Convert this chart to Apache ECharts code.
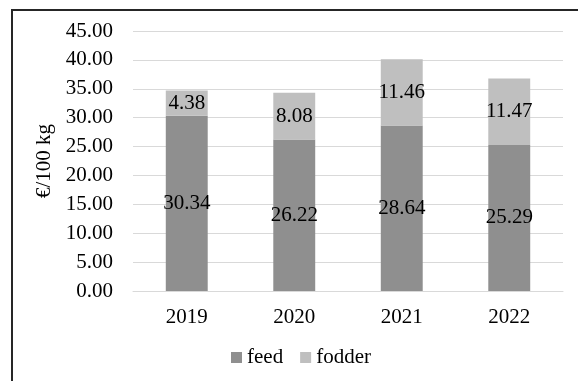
<!DOCTYPE html>
<html>
<head>
<meta charset="utf-8">
<script src="https://cdn.jsdelivr.net/npm/echarts@6/dist/echarts.min.js"></script>
<style>
  html, body { margin: 0; padding: 0; background: #fff; }
  #chart { width: 578px; height: 381px; }
</style>
</head>
<body>
<div id="chart"></div>
<script>
const years = ['2019', '2020', '2021', '2022'];
const feed = [30.34, 26.22, 28.64, 25.29];
const fodder = [4.38, 8.08, 11.46, 11.47];

const FONT = '"Liberation Serif", "Times New Roman", serif';
const chart = echarts.init(document.getElementById('chart'));

const label = { show: true, position: 'inside', color: '#000', fontFamily: FONT, fontSize: 21, formatter: (p) => p.value.toFixed(2) };

chart.setOption({
  backgroundColor: '#fff',
  animation: false,
  graphic: [{ type: 'rect', shape: { x: 12, y: 10, width: 575, height: 380 }, style: { fill: 'none', stroke: '#262626', lineWidth: 2 } }],
  grid: { left: 133, right: 15, top: 31, bottom: 90 },
  legend: {
    bottom: 8, left: 226, itemWidth: 11, itemHeight: 11, itemGap: 17,
    icon: 'rect',
    textStyle: { fontFamily: FONT, fontSize: 21, color: '#000' },
    data: ['feed', 'fodder']
  },
  xAxis: {
    type: 'category', data: years,
    axisTick: { show: false },
    axisLine: { lineStyle: { color: '#d9d9d9' } },
    axisLabel: { fontFamily: FONT, fontSize: 21, color: '#000', margin: 16 }
  },
  yAxis: {
    type: 'value', min: 0, max: 45, interval: 5,
    name: '€/100 kg', nameLocation: 'middle', nameGap: 75, nameRotate: 90,
    nameTextStyle: { fontFamily: FONT, fontSize: 21, color: '#000' },
    axisLine: { show: false }, axisTick: { show: false },
    axisLabel: { fontFamily: FONT, fontSize: 21, color: '#000', margin: 20, formatter: (v) => v.toFixed(2) },
    splitLine: { lineStyle: { color: '#d9d9d9', width: 1 } }
  },
  series: [
    { name: 'feed', type: 'bar', stack: 'a', data: feed, barWidth: '39%', itemStyle: { color: '#8f8f8f' }, label },
    { name: 'fodder', type: 'bar', stack: 'a', data: fodder, itemStyle: { color: '#bfbfbf' }, label }
  ]
});
</script>
</body>
</html>
